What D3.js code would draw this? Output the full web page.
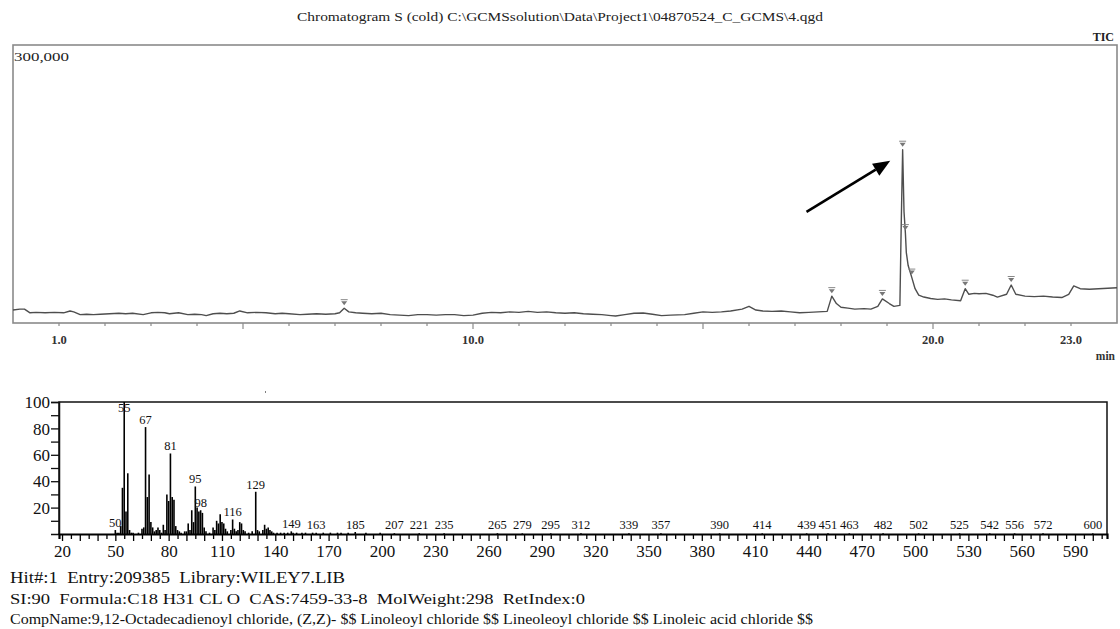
<!DOCTYPE html>
<html><head><meta charset="utf-8">
<script src="https://cdn.jsdelivr.net/npm/d3@7/dist/d3.min.js"></script>
<style>body{margin:0;background:#fff}svg{display:block}</style>
</head><body>
<svg id="c" width="1120" height="629"></svg>
<script>
// ---------- Chromatogram (TIC) data: time (min) and intensity (counts) ----------
const ticTimes = [0.00,0.15,0.25,0.37,0.5,0.7,0.9,1.1,1.24,1.32,1.46,1.6,1.75,1.9,2.1,2.3,2.45,2.6,2.83,3.0,3.15,3.3,3.4,3.6,3.8,3.95,4.1,4.2,4.35,4.5,4.65,4.8,4.93,5.1,5.3,5.5,5.7,5.85,6.0,6.24,6.4,6.6,6.8,7.0,7.1,7.2,7.3,7.45,7.6,7.8,8.0,8.2,8.4,8.6,8.8,9.0,9.2,9.4,9.6,9.8,10.0,10.2,10.4,10.6,10.8,11.0,11.2,11.4,11.6,11.8,12.0,12.2,12.4,12.6,12.8,13.0,13.1,13.3,13.5,13.7,13.9,14.1,14.3,14.6,14.8,15.0,15.2,15.4,15.6,15.85,16.0,16.15,16.3,16.5,16.7,16.9,17.1,17.3,17.5,17.7,17.8,17.9,18.0,18.15,18.3,18.5,18.65,18.8,18.9,19.05,19.15,19.28,19.31,19.34,19.37,19.40,19.42,19.46,19.54,19.61,19.69,19.8,19.95,20.1,20.25,20.4,20.6,20.7,20.78,20.9,21.0,21.15,21.3,21.4,21.6,21.7,21.8,22.0,22.2,22.4,22.6,22.8,22.95,23.06,23.2,23.4,23.6,23.8,24.0];
const ticIntensity = [14000,15000,15000,11000,11500,11000,11500,11000,13000,12000,9000,9500,9000,9500,10000,10500,10000,10500,9000,11000,11500,11000,10000,11000,9000,9500,9000,8000,10000,10500,10000,10500,13000,11000,11500,11000,10000,10500,10000,9000,9500,10000,9500,10000,11000,16000,12000,11000,10500,10000,10500,9000,8500,8000,9000,9000,8500,9000,9000,8000,8500,10500,11500,11000,12000,11500,12500,11500,12000,11000,10500,11000,10000,9500,9000,8000,7500,9000,10500,10800,9500,8000,8500,9000,10500,12000,11500,12000,13000,15000,18000,14000,13000,12500,13000,12000,11000,11500,12000,12500,29000,21000,17000,16000,15000,15500,15000,18000,26000,21000,18000,19000,108000,187000,120000,97000,76000,62000,49000,37000,30000,28000,26500,25500,26000,25000,24000,37000,31000,32000,31500,32000,30000,28000,31000,41000,31000,29000,28500,29000,28000,27500,31000,40000,37000,36500,37000,37500,38000];
const ticPeakTimes = [7.2,17.8,18.9,19.34,19.40,19.54,20.7,21.7];
const ticXLabels = [1.0,10.0,20.0,23.0];
const ticDomain = [0,24];
const ticYMax = 300000;
const arrowFrom = [17.25,120000];
const arrowTo = [19.07,175000];

// ---------- Mass spectrum data: [m/z, relative intensity %] ----------
const msPeaks = [[50,3],[51,1],[52,1],[53,6],[54,35],[55,100],[56,17],[57,46],[58,3],[59,1],[60,1],[63,1],[65,4],[66,5],[67,81],[68,28],[69,45],[70,9],[71,5],[72,2],[73,3],[74,5],[75,3],[76,1],[77,7],[78,3],[79,30],[80,25],[81,61],[82,28],[83,26],[84,6],[85,3],[86,2],[87,1],[89,2],[90,2],[91,8],[92,3],[93,18],[94,9],[95,36],[96,20],[97,17],[98,18],[99,16],[100,5],[101,2],[103,1],[105,5],[106,3],[107,10],[108,8],[109,15],[110,9],[111,8],[112,4],[113,2],[115,3],[116,11],[117,4],[118,2],[119,3],[120,9],[121,8],[122,3],[123,2],[125,1],[127,2],[129,32],[130,3],[131,2],[133,3],[134,7],[135,4],[136,5],[137,3],[138,2],[139,1],[141,1],[143,1],[145,1],[147,1],[149,2],[150,1],[152,1],[155,1],[157,1],[161,1],[163,1],[167,1],[171,1],[175,1],[177,1],[181,1],[185,1.5],[191,1],[199,1],[207,0.6],[221,0.6],[235,0.6],[265,0.6],[279,0.5],[295,0.5],[312,0.5],[339,0.5],[357,0.5],[390,0.5],[414,0.5],[439,0.5],[451,0.5],[463,0.5],[482,0.5],[502,0.5],[525,0.5],[542,0.5],[556,0.5],[572,0.5],[600,0.5]];
const msLabels = [50,55,67,81,95,98,116,129,149,163,185,207,221,235,265,279,295,312,339,357,390,414,439,451,463,482,502,525,542,556,572,600];
const msXTicks = [20,50,80,110,140,170,200,230,260,290,320,350,380,410,440,470,500,530,560,590];
const msYTicks = [20,40,60,80,100];
const msDomain = [18.3,608];

const titleText = "Chromatogram S (cold) C:\\GCMSsolution\\Data\\Project1\\04870524_C_GCMS\\4.qgd";
const infoLines = [
  "Hit#:1  Entry:209385  Library:WILEY7.LIB",
  "SI:90  Formula:C18 H31 CL O  CAS:7459-33-8  MolWeight:298  RetIndex:0",
  "CompName:9,12-Octadecadienoyl chloride, (Z,Z)- $$ Linoleoyl chloride $$ Lineoleoyl chloride $$ Linoleic acid chloride $$"
];

const svg = d3.select("#c");
const serif = "'Liberation Serif','Times New Roman',serif";

// ===== Top: chromatogram =====
const T = {l:13, r:1117, t:45, b:323};
const xT = d3.scaleLinear().domain(ticDomain).range([T.l, T.r]);
const yT = d3.scaleLinear().domain([0, ticYMax]).range([T.b, T.t]);

svg.append("text").attr("x",560).attr("y",21).attr("text-anchor","middle")
  .attr("font-family",serif).attr("font-size",13).attr("fill","#222")
  .attr("textLength",526).attr("lengthAdjust","spacingAndGlyphs").text(titleText);
svg.append("text").attr("x",1114).attr("y",41).attr("text-anchor","end")
  .attr("font-family",serif).attr("font-size",12).attr("font-weight","bold").attr("fill","#222").text("TIC");

svg.append("rect").attr("x",T.l).attr("y",T.t).attr("width",T.r-T.l).attr("height",T.b-T.t)
  .attr("fill","none").attr("stroke","#8a8a8a").attr("stroke-width",1.6);

svg.append("text").attr("x",T.l+1).attr("y",T.t+16).attr("font-family",serif).attr("font-size",12)
  .attr("fill","#222").attr("textLength",55).attr("lengthAdjust","spacingAndGlyphs").text("300,000");

// x ticks (every minute, longer every 5)
const tGrid = d3.range(1, 24, 1);
svg.append("g").selectAll("line").data(tGrid).join("line")
  .attr("x1",d=>xT(d)).attr("x2",d=>xT(d)).attr("y1",T.b).attr("y2",d=> d%5===0 ? T.b+6 : T.b+3)
  .attr("stroke","#8a8a8a").attr("stroke-width",1.2);
svg.append("g").selectAll("text").data(ticXLabels).join("text")
  .attr("x",d=>xT(d)).attr("y",T.b+21).attr("text-anchor","middle")
  .attr("font-family",serif).attr("font-size",12.5).attr("font-weight","bold").attr("fill","#333")
  .text(d=>d3.format(".1f")(d));
svg.append("text").attr("x",1115).attr("y",T.b+37).attr("text-anchor","end")
  .attr("font-family",serif).attr("font-size",11.5).attr("font-weight","bold").attr("fill","#333").text("min");

const ticData = ticTimes.map((t,i)=>[t, ticIntensity[i]]);
const line = d3.line().x(d=>xT(d[0])).y(d=>yT(d[1]));
svg.append("path").datum(ticData).attr("d",line).attr("fill","none")
  .attr("stroke","#4e4e4e").attr("stroke-width",1.4).attr("stroke-linejoin","round");

// peak-top markers
const interp = t => { const i = d3.bisectLeft(ticTimes, t); if (i<=0) return ticIntensity[0];
  const t0=ticTimes[i-1], t1=ticTimes[i]; const f=(t-t0)/(t1-t0); return ticIntensity[i-1]+(ticIntensity[i]-ticIntensity[i-1])*f; };
const mk = svg.append("g").selectAll("g").data(ticPeakTimes).join("g")
  .attr("transform",d=>`translate(${xT(d)},${yT(interp(d))-4})`);
mk.append("path").attr("d","M-3,-3 L3,-3 L0,1 Z").attr("fill","#777");
mk.append("line").attr("x1",-3.5).attr("x2",3.5).attr("y1",-4.5).attr("y2",-4.5).attr("stroke","#888").attr("stroke-width",1);

// arrow annotation
const ax0 = xT(arrowFrom[0]), ay0 = yT(arrowFrom[1]), ax1 = xT(arrowTo[0]), ay1 = yT(arrowTo[1]);
const ang = Math.atan2(ay1-ay0, ax1-ax0), hl = 17, hw = 7;
const bx = ax1 - hl*Math.cos(ang), by = ay1 - hl*Math.sin(ang);
svg.append("line").attr("x1",ax0).attr("y1",ay0).attr("x2",bx).attr("y2",by)
  .attr("stroke","#000").attr("stroke-width",2.6);
svg.append("path").attr("d",`M${ax1},${ay1} L${bx - hw*Math.sin(ang)},${by + hw*Math.cos(ang)} L${bx + hw*Math.sin(ang)},${by - hw*Math.cos(ang)} Z`)
  .attr("fill","#000");

// ===== Bottom: mass spectrum =====
const M = {l:59, r:1107, t:402, b:534};
const xM = d3.scaleLinear().domain(msDomain).range([M.l, M.r]);
const yM = d3.scaleLinear().domain([0,100]).range([M.b, M.t]);

svg.append("line").attr("x1",265).attr("x2",266).attr("y1",392).attr("y2",392).attr("stroke","#555").attr("stroke-width",1.5);

// frame
svg.append("path").attr("d",`M${M.l},${M.b} L${M.l},${M.t} L${M.r},${M.t} L${M.r},${M.b}`)
  .attr("fill","none").attr("stroke","#111").attr("stroke-width",1.5);

// bars
svg.append("g").selectAll("line").data(msPeaks).join("line")
  .attr("x1",d=>xM(d[0])).attr("x2",d=>xM(d[0])).attr("y1",M.b).attr("y2",d=>yM(d[1]))
  .attr("stroke","#000").attr("stroke-width",1.6);

// y axis
const yAxis = d3.axisLeft(yM).tickValues(d3.range(10,101,10)).tickSize(8)
  .tickFormat(d => msYTicks.includes(d) ? d : "");
const gy = svg.append("g").attr("transform",`translate(${M.l},0)`).call(yAxis);
gy.select(".domain").attr("stroke","#111").attr("stroke-width",1.5);
gy.selectAll(".tick line").attr("stroke","#111").attr("stroke-width",1.3);
gy.selectAll(".tick text").attr("font-family",serif).attr("font-size",17).attr("fill","#111").attr("x",-9).attr("dy","0.34em");

// x axis
const xAxis = d3.axisBottom(xM).tickValues(d3.range(20,606,5)).tickSize(5)
  .tickFormat(d => msXTicks.includes(d) ? d : "");
const gx = svg.append("g").attr("transform",`translate(0,${M.b})`).call(xAxis);
gx.select(".domain").attr("stroke","#000").attr("stroke-width",2.2);
gx.selectAll(".tick line").attr("stroke","#000").attr("stroke-width",1.3).attr("y2",d=> d%10===0 ? 7 : 5);
gx.selectAll(".tick text").attr("font-family",serif).attr("font-size",17).attr("fill","#111").attr("y",11);

// peak labels
const intOf = new Map(msPeaks);
svg.append("g").selectAll("text").data(msLabels).join("text")
  .attr("x",d=>xM(d)).attr("y",d=>Math.max(M.t+10, Math.min(yM(intOf.get(d)||0.5)-3, M.b-5)))
  .attr("text-anchor","middle").attr("font-family",serif).attr("font-size",12.5).attr("fill","#111")
  .text(d=>d);

// info lines
const infoY = [583, 604, 624], infoW = [335, 575, 803], infoS = [16, 14.5, 14.5];
svg.append("g").selectAll("text").data(infoLines).join("text")
  .attr("x",10).attr("y",(d,i)=>infoY[i]).attr("font-family",serif).attr("font-size",(d,i)=>infoS[i])
  .attr("fill","#111").attr("textLength",(d,i)=>infoW[i]).attr("lengthAdjust","spacingAndGlyphs")
  .attr("xml:space","preserve").style("white-space","pre").text(d=>d);
</script>
</body></html>
